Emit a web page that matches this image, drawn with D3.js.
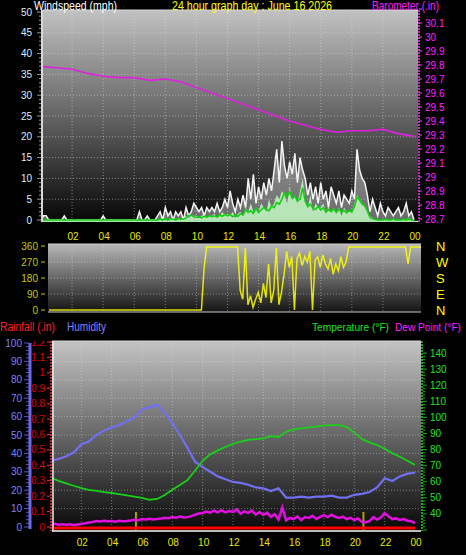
<!DOCTYPE html>
<html><head><meta charset="utf-8">
<script src="https://cdn.jsdelivr.net/npm/d3@7"></script>
<style>html,body{margin:0;padding:0;background:#000;}svg{display:block;font-family:"Liberation Sans",Arial,sans-serif;}</style>
</head><body>
<script>
// ---------- DATA ----------
const hourTicks = [2,4,6,8,10,12,14,16,18,20,22,24];
const hourLabels = ["02","04","06","08","10","12","14","16","18","20","22","00"];
// wind, 10-minute samples (mph)
const windGust = [
0,1,1,0,0,0, 0,0,0,1,0,0, 0,0,0,0,0,0, 0,0,0,0,0,0, 1,0,0,0,0,0, 0,0,0,0,0,0,
0,0,2,0,0,1, 0,0,0,1,2,0, 3,1,2,0,2,1, 2,0,3,1,2,4, 3,2,3,1,3,2, 3,2,4,2,3,5,
3,7,4,2,5,3, 6,3,10,5,11,4, 8,5,9,6,10,7, 12,17,9,19,13,10, 14,11,16,9,15,12, 10,6,9,5,8,4,
9,5,7,3,8,6, 4,7,3,6,5,4, 7,5,17,12,10,9, 6,2,5,3,1,4, 2,1,3,2,1,2, 3,1,2,4,1,2, 0];
const windSpeed = [
0,0,0,0,0,0, 0,0,0,0,0,0, 0,0,0,0,0,0, 0,0,0,0,0,0, 0,0,0,0,0,0, 0,0,0,0,0,0,
0,0,0,0,0,0, 0,0,0,0,0,0, 0,0,0.5,0,0,0.5, 0,0.5,1,0.5,1,1, 1,0.5,1,1.5,0.5,1, 1,1.5,0.5,1,2,1,
1.5,1,2,0.5,1.5,2, 1,3,2,4,2,3, 2,4,3,2,5,3, 4,6,5,7,6,4, 8,5,6,4,7,10, 5,3,6,2,4,3,
3,4,2,3,2,3, 2,3,1,3,2,2, 2,4,6,5,4,3, 2,1,0.5,0,0,0, 0,0,0,0,0,0, 0,0,0,0,0,0, 0];
const windAvg = [
0,0,0,0,0,0, 0,0,0,0,0,0, 0,0,0,0,0,0, 0,0,0,0,0,0, 0,0,0,0,0,0, 0,0,0,0,0,0,
0,0,0,0,0,0, 0,0,0,0,0.3,0, 0.3,0,0.3,0.2,0,0.3, 0.3,0.2,0.5,1,1.2,0.8, 0.6,0.8,0.5,0.9,0.7,1, 0.8,1,0.7,1.2,0.9,1.4,
1,1.3,0.8,1.1,0.9,1.5, 1.2,2.5,1.8,2.2,1.6,2.8, 1.8,2.4,3,2.6,2.2,3.4, 3,4.2,3.8,5,6.5,5.6, 6.8,5.2,5.8,4.6,5,7.8, 4.5,3.2,3.8,2.8,2.5,3.3,
2.4,3,1.9,2.5,2,2.7, 1.8,2.6,2,2.3,1.7,2.4, 1.9,3.2,5.5,4.8,3.8,3.5, 2.2,0.6,0.3,0.2,0,0, 0,0.2,0,0,0.3,0, 0,0,0.2,0,0.4,0, 0];
// barometer, hourly (in)
const barometer = [29.79,29.78,29.77,29.74,29.72,29.71,29.71,29.69,29.70,29.68,29.64,29.60,29.56,29.52,29.48,29.44,29.40,29.37,29.34,29.32,29.33,29.33,29.34,29.31,29.29];
// wind direction, 10-minute samples (deg)
const windDir = [
0,0,0,0,0,0, 0,0,0,0,0,0, 0,0,0,0,0,0, 0,0,0,0,0,0, 0,0,0,0,0,0, 0,0,0,0,0,0,
0,0,0,0,0,0, 0,0,0,0,0,0, 0,0,0,0,0,0, 0,0,0,0,0,0, 230,355,355,355,355,355, 355,355,355,355,355,355,
355,355,110,60,350,30, 80,15,60,100,40,150, 70,260,40,110,350,30, 100,200,330,240,300,0, 290,320,250,300,270,330, 0,280,300,240,310,260,
230,290,200,260,220,300, 240,270,355,355,355,355, 355,355,355,355,355,355, 355,355,355,355,355,355, 355,355,355,355,355,355, 355,260,355,355,355,355, 355];
const dirLabels = ["N","W","S","E","N"];
// half-hourly humidity (%) and temperature (F)
const humidity = [36,37,38.5,40.5,45,46.5,50,52.5,54,55.5,57.5,59.5,64,65,66.5,62,56.5,50,43,35.5,32.5,30,27.5,26,24.5,24,23,21.5,21,19.5,21,16,16,16.5,16,16.5,16.5,17,16,16,17.5,18,19,21.5,26.5,25,27.5,29,29.5];
const temperature = [62.5,60.5,59,57.5,56,55,54.3,53.6,53,52.3,51.5,50.8,50,48.8,49.3,51.7,55,58,61,67,73,77,79.5,81.6,83.5,85,86,86.5,87,88.3,87.8,91,92.5,93.2,93.8,94.2,95,95.2,95.2,94,90.5,86.5,84.5,82.8,80.5,77.8,75.5,73,70.5];
// 15-minute dew point (F)
const dewPoint = [33.5,33.8,33.3,33.6, 33.2,33.5,33.0,33.4, 33.8,34.2,34.6,35.0, 35.6,35.3,35.7,35.4, 35.6,35.2,35.8,35.5, 35.6,35.9,36.3,36.0,
36.8,36.5,37.0,36.6, 36.8,37.2,37.6,37.3, 38.0,37.6,38.3,37.8, 38.0,38.6,39.5,40.2, 40.6,41.5,40.8,42.0, 41.0,42.3,40.9,41.8,
41.2,42.8,40.2,41.6, 40.6,42.0,39.5,41.2, 39.3,40.8,38.2,39.8, 36.5,44.0,36.0,37.5, 36.8,38.5,36.2,38.0, 37.5,38.8,36.9,38.2,
39.3,38.0,39.5,38.2, 37.5,38.3,36.8,37.6, 36.2,37.2,35.0,34.8, 35.5,38.0,36.5,37.8, 40.6,38.5,36.8,37.2, 36.2,36.8,35.8,35.5, 34.3];
const rainfall = [0,0];            // total rain over day (in), start and end
const sunEvents = [5.6, 20.6];     // sunrise / sunset markers (h)

// ---------- DRAW ----------
const W=466,H=555;
const svg=d3.select("body").append("svg").attr("width",W).attr("height",H);
svg.append("rect").attr("width",W).attr("height",H).attr("fill","#000");
const defs=svg.append("defs");
function grad(id,c1,c2){const g=defs.append("linearGradient").attr("id",id).attr("x1",0).attr("y1",0).attr("x2",0).attr("y2",1);
 g.append("stop").attr("offset","0%").attr("stop-color",c1);g.append("stop").attr("offset","100%").attr("stop-color",c2);}
grad("gTop","#c2c2c2","#060606");grad("gMid","#b8b8b8","#141414");grad("gBot","#c4c4c4","#080808");
function clip(id,x,y,w,h){defs.append("clipPath").attr("id",id).append("rect").attr("x",x).attr("y",y).attr("width",w).attr("height",h);}

const t10 = (i)=>i/6, t30=(i)=>i/2, t15=(i)=>i/4;
const FONT="10px";
const txt=(x,y,s,c,anchor,size)=>svg.append("text").attr("x",x).attr("y",y).text(s).attr("fill",c).attr("font-size",size||FONT).attr("text-anchor",anchor||"start");
const title=(x,y,s,c,len,size)=>svg.append("text").attr("x",x).attr("y",y).text(s).attr("fill",c).attr("font-size",size||"12px")
  .attr("textLength",len).attr("lengthAdjust","spacingAndGlyphs");

// ===== TOP PANEL =====
const P1={l:43,r:418,t:10,b:222};
const xT=d3.scaleLinear().domain([0,24]).range([41,414]);
const yW=d3.scaleLinear().domain([0,50]).range([220,12]);
const yB=d3.scaleLinear().domain([28.7,30.2]).range([219,9]);
svg.append("rect").attr("x",P1.l).attr("y",P1.t).attr("width",P1.r-P1.l).attr("height",P1.b-P1.t).attr("fill","url(#gTop)");
clip("c1",P1.l,P1.t,P1.r-P1.l,P1.b-P1.t);
const g1=svg.append("g").attr("clip-path","url(#c1)");
hourTicks.slice(0,11).forEach(h=>g1.append("line").attr("x1",xT(h)).attr("x2",xT(h)).attr("y1",P1.t).attr("y2",P1.b).attr("stroke","#e0e0e0").attr("stroke-opacity",0.5).attr("stroke-dasharray","1,2"));
d3.range(5,50,5).forEach(v=>g1.append("line").attr("x1",P1.l).attr("x2",P1.r).attr("y1",yW(v)).attr("y2",yW(v)).attr("stroke","#e0e0e0").attr("stroke-opacity",0.5).attr("stroke-dasharray","1,2"));
// gust
g1.append("path").datum(windGust).attr("d",d3.area().x((d,i)=>xT(t10(i))).y0(yW(0)).y1(d=>yW(d))).attr("fill","#ffffff").attr("fill-opacity",0.4);
g1.append("path").datum(windGust).attr("d",d3.line().x((d,i)=>xT(t10(i))).y(d=>yW(d))).attr("fill","none").attr("stroke","#f4f4f4").attr("stroke-width",1.5);
// speed
g1.append("path").datum(windSpeed).attr("d",d3.area().x((d,i)=>xT(t10(i))).y0(yW(0)+1).y1(d=>yW(d))).attr("fill","#bff2bf").attr("fill-opacity",0.9);
// average
g1.append("line").attr("x1",P1.l).attr("x2",P1.r).attr("y1",yW(0)+1.5).attr("y2",yW(0)+1.5).attr("stroke","#a8e8a8").attr("stroke-width",1.5);
g1.append("path").datum(windAvg).attr("d",d3.line().x((d,i)=>xT(t10(i))).y(d=>yW(d))).attr("fill","none").attr("stroke","#10d010").attr("stroke-width",1.6);
// barometer
g1.append("path").datum(barometer).attr("d",d3.line().x((d,i)=>xT(i)).y(d=>yB(d))).attr("fill","none").attr("stroke","#e020e0").attr("stroke-width",1.6);
// panel border
svg.append("line").attr("x1",P1.l).attr("x2",P1.r).attr("y1",P1.t).attr("y2",P1.t).attr("stroke","#d8d8d8");
// left axis
svg.append("line").attr("x1",42).attr("x2",42).attr("y1",P1.t).attr("y2",P1.b).attr("stroke","#d8d8d8").attr("stroke-width",2);
d3.range(0,51,1).forEach(v=>svg.append("line").attr("x1",v%5?39:37).attr("x2",41).attr("y1",yW(v)).attr("y2",yW(v)).attr("stroke","#bbbbbb").attr("stroke-width",0.8));
d3.range(0,51,5).forEach(v=>txt(32,yW(v)+3.5,v,"#dceeff","end"));
// right axis
svg.append("line").attr("x1",419).attr("x2",419).attr("y1",P1.t).attr("y2",P1.b).attr("stroke","#ff40ff").attr("stroke-width",1.5).attr("stroke-dasharray","2,1");
d3.range(0,16).forEach(k=>{const v=28.7+k*0.1;svg.append("line").attr("x1",419).attr("x2",422).attr("y1",yB(v)).attr("y2",yB(v)).attr("stroke","#ff40ff");});
d3.range(0,15).forEach(k=>{const v=+(28.7+k*0.1).toFixed(1);txt(425,yB(v)+3.5,String(v),"#ff20ff","start");});
// x labels
hourTicks.forEach((h,i)=>txt(xT(h)+1,240,hourLabels[i],"#e8e800","middle"));
// titles
title(34,10,"Windspeed (mph)","#ffffff",83);
title(172,10,"24 hour graph day : June 16 2026","#ffff00",160);
title(372,10,"Barometer (.in)","#ff20ff",67);

// ===== MIDDLE PANEL =====
const P2={l:48,r:421,t:244,b:312};
const yD=d3.scaleLinear().domain([0,360]).range([310,246]);
svg.append("rect").attr("x",P2.l).attr("y",P2.t).attr("width",P2.r-P2.l).attr("height",P2.b-P2.t).attr("fill","url(#gMid)");
clip("c2",P2.l,P2.t,P2.r-P2.l,P2.b-P2.t);
const g2=svg.append("g").attr("clip-path","url(#c2)");
hourTicks.slice(0,11).forEach(h=>g2.append("line").attr("x1",xT(h)).attr("x2",xT(h)).attr("y1",P2.t).attr("y2",P2.b).attr("stroke","#e0e0e0").attr("stroke-opacity",0.45).attr("stroke-dasharray","1,2"));
[90,180,270].forEach(v=>g2.append("line").attr("x1",P2.l).attr("x2",P2.r).attr("y1",yD(v)).attr("y2",yD(v)).attr("stroke","#e0e0e0").attr("stroke-opacity",0.45).attr("stroke-dasharray","1,2"));
svg.append("line").attr("x1",P2.l).attr("x2",P2.r).attr("y1",P2.t).attr("y2",P2.t).attr("stroke","#d0d0d0");
svg.append("line").attr("x1",P2.l).attr("x2",P2.r).attr("y1",P2.b).attr("y2",P2.b).attr("stroke","#c8c8c8");
const xD=d3.scaleLinear().domain([0,24]).range([49,421]);
svg.append("path").datum(windDir).attr("d",d3.line().x((d,i)=>xD(t10(i))).y(d=>yD(d))).attr("fill","none").attr("stroke","#ffff00").attr("stroke-opacity",0.85).attr("stroke-width",1.5);
[0,90,180,270,360].forEach(v=>{txt(38,yD(v)+3.5,v,"#c8c800","end");svg.append("line").attr("x1",41).attr("x2",45).attr("y1",yD(v)).attr("y2",yD(v)).attr("stroke","#c8c800");});
dirLabels.forEach((s,i)=>txt(436,yD(360-i*90)+5,s,"#ffff00","start","13px"));

// ===== BOTTOM PANEL =====
const P3={l:52,r:421,t:341,b:531};
const xB=d3.scaleLinear().domain([0,24]).range([51,415]);
const yH=d3.scaleLinear().domain([0,100]).range([527,343]);
const yR=d3.scaleLinear().domain([0,1.2]).range([527,342]);
const yT=d3.scaleLinear().domain([30,140]).range([530,353]);
svg.append("rect").attr("x",P3.l).attr("y",P3.t).attr("width",P3.r-P3.l).attr("height",P3.b-P3.t).attr("fill","url(#gBot)");
clip("c3",P3.l,P3.t,P3.r-P3.l,P3.b-P3.t);
const g3=svg.append("g").attr("clip-path","url(#c3)");
hourTicks.slice(0,11).forEach(h=>g3.append("line").attr("x1",xB(h)).attr("x2",xB(h)).attr("y1",P3.t).attr("y2",P3.b).attr("stroke","#e0e0e0").attr("stroke-opacity",0.45).attr("stroke-dasharray","1,2"));
d3.range(10,100,10).forEach(v=>g3.append("line").attr("x1",P3.l).attr("x2",P3.r).attr("y1",yH(v)).attr("y2",yH(v)).attr("stroke","#e0e0e0").attr("stroke-opacity",0.45).attr("stroke-dasharray","1,2"));
// sun markers
sunEvents.forEach(h=>g3.append("line").attr("x1",xB(h)).attr("x2",xB(h)).attr("y1",512).attr("y2",P3.b).attr("stroke","#b0a000").attr("stroke-width",2));
// humidity
g3.append("path").datum(humidity).attr("d",d3.line().x((d,i)=>xB(t30(i))).y(d=>yH(d))).attr("fill","none").attr("stroke","#7070f0").attr("stroke-width",2.2);
// temperature
g3.append("path").datum(temperature).attr("d",d3.line().x((d,i)=>xB(t30(i))).y(d=>yT(d))).attr("fill","none").attr("stroke","#18d018").attr("stroke-width",1.8);
// dew point
g3.append("path").datum(dewPoint).attr("d",d3.line().x((d,i)=>xB(t15(i))).y(d=>yT(d))).attr("fill","none").attr("stroke","#e010e0").attr("stroke-width",2.5);
// rainfall
g3.append("path").datum(rainfall).attr("d",d3.line().x((d,i)=>xB(i*24)).y(d=>yR(d)+1)).attr("fill","none").attr("stroke","#ff0000").attr("stroke-width",3);
// borders
svg.append("line").attr("x1",P3.l).attr("x2",P3.r).attr("y1",P3.t).attr("y2",P3.t).attr("stroke","#d0d0d0");
svg.append("line").attr("x1",P3.l).attr("x2",P3.r).attr("y1",P3.b).attr("y2",P3.b).attr("stroke","#bbbbbb").attr("stroke-width",2);
svg.append("line").attr("x1",53).attr("x2",53).attr("y1",P3.t).attr("y2",P3.b).attr("stroke","#e8e8e8").attr("stroke-width",1.5);
// humidity axis
svg.append("line").attr("x1",30).attr("x2",30).attr("y1",343).attr("y2",529).attr("stroke","#6a6af0").attr("stroke-width",3);
d3.range(0,101,2).forEach(v=>svg.append("line").attr("x1",v%10?26:24).attr("x2",29).attr("y1",yH(v)).attr("y2",yH(v)).attr("stroke","#7070f0").attr("stroke-width",0.8));
d3.range(0,101,10).forEach(v=>txt(22,yH(v)+3.5,v,"#8080ff","end"));
// rain axis
svg.append("line").attr("x1",51).attr("x2",51).attr("y1",P3.t).attr("y2",P3.b).attr("stroke","#ff3030").attr("stroke-width",1.5).attr("stroke-dasharray","2,1");
clip("c4",0,P3.t,60,200);
const gr=svg.append("g").attr("clip-path","url(#c4)");
d3.range(0,13).forEach(k=>{const v=+(k*0.1).toFixed(1);
 gr.append("line").attr("x1",47).attr("x2",50).attr("y1",yR(v)).attr("y2",yR(v)).attr("stroke","#ff3030");
 gr.append("text").attr("x",45).attr("y",yR(v)+3.5).attr("text-anchor","end").attr("fill","#e00000").attr("font-size",FONT).text(String(v));});
// temp axis
svg.append("line").attr("x1",422).attr("x2",422).attr("y1",P3.t).attr("y2",P3.b).attr("stroke","#20e020").attr("stroke-width",1.5).attr("stroke-dasharray","2,1");
d3.range(30,141,2).forEach(v=>svg.append("line").attr("x1",423).attr("x2",v%10?425:427).attr("y1",yT(v)).attr("y2",yT(v)).attr("stroke","#20e020").attr("stroke-width",0.8));
d3.range(40,141,10).forEach(v=>txt(430,yT(v)+3.5,v,"#20e020","start"));
// x labels
hourTicks.forEach((h,i)=>txt(xB(h)+1,546,hourLabels[i],"#e8e800","middle"));
// titles
title(0,331,"Rainfall (.in)","#ff2020",55);
title(67,331,"Humidity","#8080ff",39);
title(312,331,"Temperature (°F)","#20e020",77,"11px");
title(395,331,"Dew Point (°F)","#ff20ff",66,"11px");
</script>
</body></html>
